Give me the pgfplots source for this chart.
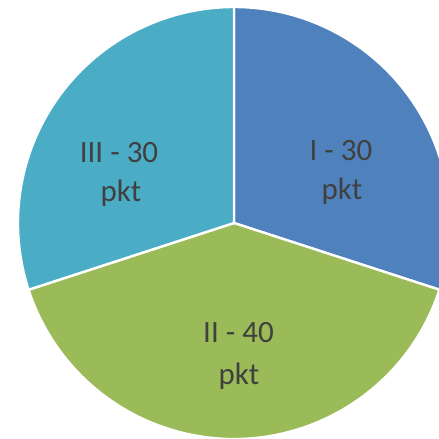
\documentclass[border=0pt]{standalone}
\usepackage{pgfplots}
\usepackage{pgfplotstable}
\usepackage{fontspec}
\setmainfont{Carlito}
\pgfplotsset{compat=1.18}

\definecolor{sliceI}{HTML}{4F81BD}
\definecolor{sliceII}{HTML}{9BBB59}
\definecolor{sliceIII}{HTML}{4BACC6}
\definecolor{labeltext}{HTML}{404040}

% points per category
\pgfplotstableread{
label value
I     30
II    40
III   30
}\pietable

\pgfplotstablegetelem{0}{value}\of\pietable \let\vI\pgfplotsretval
\pgfplotstablegetelem{1}{value}\of\pietable \let\vII\pgfplotsretval
\pgfplotstablegetelem{2}{value}\of\pietable \let\vIII\pgfplotsretval
\pgfmathsetmacro\total{\vI+\vII+\vIII}
% slices start at 12 o'clock and run clockwise
\pgfmathsetmacro\aA{90}
\pgfmathsetmacro\aB{\aA-360*\vI/\total}
\pgfmathsetmacro\aC{\aB-360*\vII/\total}
\pgfmathsetmacro\aD{\aC-360*\vIII/\total}

\def\cx{234}
\def\cy{216}
\def\rr{216}

\begin{document}
\begin{tikzpicture}
\begin{axis}[
    width=439pt, height=439pt,
    scale only axis,
    xmin=0, xmax=439, ymin=0, ymax=439,
    hide axis,
    clip=true,
]
\fill[sliceI, draw=white, line width=2.4pt, line join=round]
    (axis cs:\cx,\cy) -- ++(\aA:\rr pt) arc[start angle=\aA, end angle=\aB, radius=\rr pt] -- cycle;
\fill[sliceII, draw=white, line width=2.4pt, line join=round]
    (axis cs:\cx,\cy) -- ++(\aB:\rr pt) arc[start angle=\aB, end angle=\aC, radius=\rr pt] -- cycle;
\fill[sliceIII, draw=white, line width=2.4pt, line join=round]
    (axis cs:\cx,\cy) -- ++(\aC:\rr pt) arc[start angle=\aC, end angle=\aD, radius=\rr pt] -- cycle;

\tikzset{lbl/.style={anchor=base, text=labeltext, inner sep=0pt,
    font=\fontsize{31}{40}\selectfont}}
\node[lbl] at (axis cs:341,278) {I - \vI};
\node[lbl] at (axis cs:342,239) {pkt};
\node[lbl] at (axis cs:238.5,96) {II - \vII};
\node[lbl] at (axis cs:239,54) {pkt};
\node[lbl] at (axis cs:119,276) {III - \vIII};
\node[lbl] at (axis cs:121,237) {pkt};
\end{axis}
\pgfresetboundingbox
\path (current axis.south west) rectangle (current axis.north east);
\end{tikzpicture}
\end{document}
